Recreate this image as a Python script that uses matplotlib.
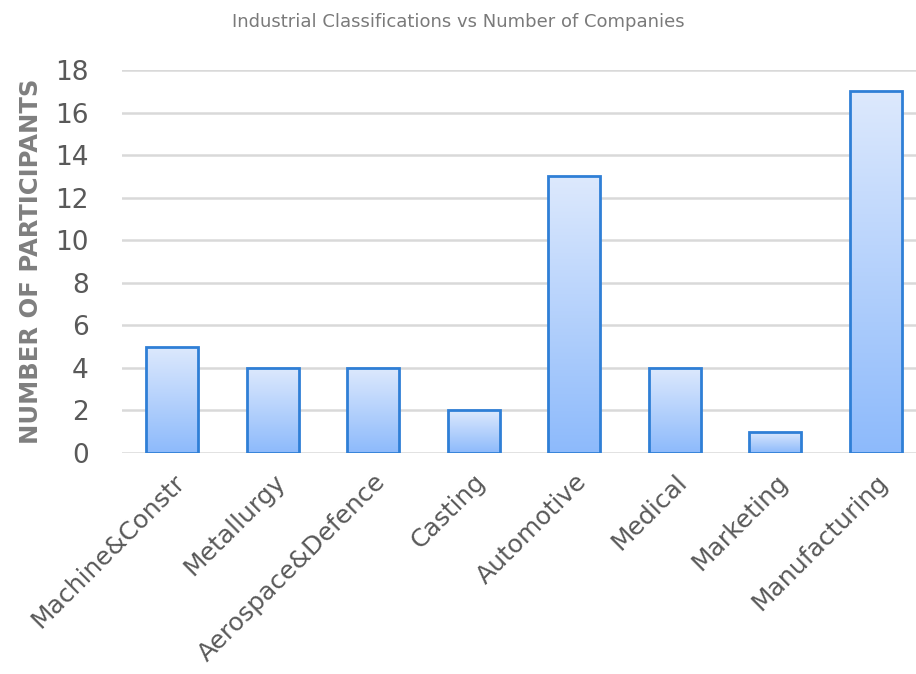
import numpy as np
import matplotlib.pyplot as plt
from matplotlib.colors import LinearSegmentedColormap

categories = ['Machine&Constr', 'Metallurgy', 'Aerospace&Defence', 'Casting',
              'Automotive', 'Medical', 'Marketing', 'Manufacturing']
participants = [5, 4, 4, 2, 13, 4, 1, 17]
yticks = [0, 2, 4, 6, 8, 10, 12, 14, 16, 18]

fig = plt.figure(figsize=(9.16, 6.74), dpi=100)
ax = fig.add_axes([122 / 916, 1 - 453 / 674, 804 / 916, 383 / 674])

x = np.arange(len(categories))
bars = ax.bar(x, participants, width=0.52, color='none',
              edgecolor='#2f7fd6', linewidth=2, zorder=3)

# vertical gradient fill, light at the top and deeper blue at the bottom
grad_cmap = LinearSegmentedColormap.from_list('bluegrad', ['#8dbafb', '#dde9fd'])
grad = np.linspace(0, 1, 256).reshape(-1, 1)
for b in bars:
    x0, y0 = b.get_x(), b.get_y()
    w, h = b.get_width(), b.get_height()
    im = ax.imshow(grad, cmap=grad_cmap, aspect='auto', origin='lower',
                   extent=[x0, x0 + w, y0, y0 + h], zorder=2)
    im.set_clip_path(b)

ax.set_xlim(-0.5, len(categories) - 0.5)
ax.set_ylim(0, 18)
ax.set_yticks(yticks)
ax.set_xticks(x)
ax.set_xticklabels(categories, rotation=45, ha='right', rotation_mode='anchor',
                   fontsize=18, color='#595959')
ax.tick_params(axis='both', length=0, labelcolor='#595959')
ax.tick_params(axis='y', pad=24, labelsize=19)
ax.tick_params(axis='x', pad=12)

ax.grid(axis='y', color='#d9d9d9', linewidth=1.8, zorder=0)
ax.set_axisbelow(True)
for s in ax.spines.values():
    s.set_visible(False)

ax.set_ylabel('NUMBER OF PARTICIPANTS', fontsize=17.5, fontweight='bold',
              color='#7f7f7f', labelpad=9)
fig.text(0.5, 0.967, 'Industrial Classifications vs Number of Companies',
         ha='center', va='center', fontsize=13, color='#7a7a7a',
         family='Liberation Sans Narrow')

fig.savefig('out.png', dpi=100)
